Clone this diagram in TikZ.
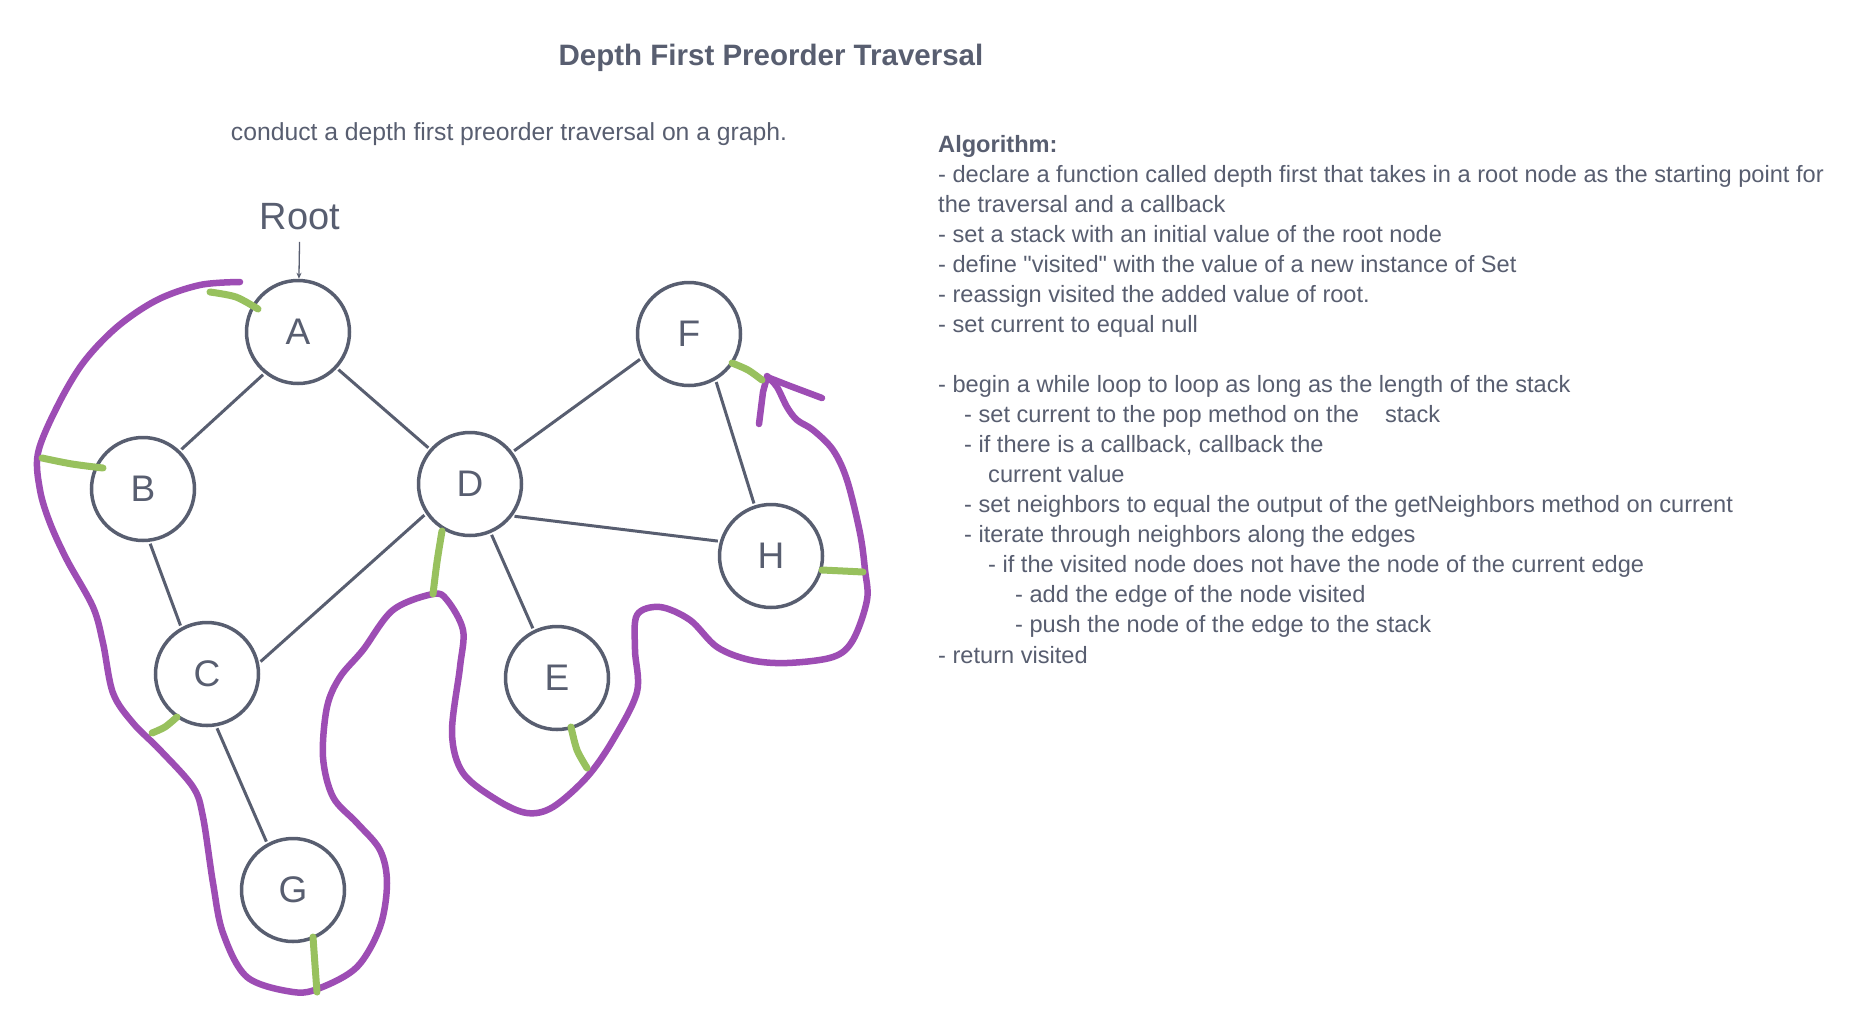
\documentclass[tikz,border=0pt]{standalone}
\usepackage{fontspec}
\setmainfont{Liberation Sans}[Ligatures=TeXOff]
\usetikzlibrary{arrows.meta}

\definecolor{inkgrey}{HTML}{585E70}
\definecolor{walkpurple}{HTML}{9D4DB4}
\definecolor{visitgreen}{HTML}{98C15E}

\tikzset{
  vertex/.style={circle, draw=inkgrey, line width=3.5pt, minimum size=103pt,
    inner sep=0pt, text=inkgrey, font=\fontsize{37}{37}\selectfont},
  edge/.style={draw=inkgrey, line width=3pt, shorten <=2pt, shorten >=2pt},
  walk/.style={draw=walkpurple, line width=6.5pt, line cap=round, line join=round},
  visit/.style={draw=visitgreen, line width=7pt, line cap=round},
  algtext/.style={anchor=base west, inner sep=0pt, text=inkgrey,
    font=\fontsize{23.6}{26}\selectfont},
}

\begin{document}
\begin{tikzpicture}[x=1pt, y=-1pt, >=Stealth]
  \fill[white] (0,0) rectangle (1852,1028);
  \useasboundingbox (0,0) rectangle (1852,1028);

  % titles
  \node[anchor=base, text=inkgrey, font=\fontsize{29.5}{30}\selectfont\bfseries] (title) at (771,65) {Depth First Preorder Traversal};
  \node[anchor=base, text=inkgrey, font=\fontsize{24.7}{26}\selectfont] (intro) at (509,140) {conduct a depth first preorder traversal on a graph.};

  % vertices
  \node[vertex] (A) at (298,332) {A};
  \node[vertex] (B) at (143,489) {B};
  \node[vertex] (C) at (207,674) {C};
  \node[vertex] (D) at (470,484) {D};
  \node[vertex] (E) at (557,678) {E};
  \node[vertex] (F) at (689,334) {F};
  \node[vertex] (G) at (293,890) {G};
  \node[vertex] (H) at (771,556) {H};

  % root label
  \node[anchor=base, text=inkgrey, font=\fontsize{38}{38}\selectfont] (root) at (300,229) {Root};
  \draw[-{Stealth[length=6pt, width=5pt]}, inkgrey, line width=1.3pt, shorten <=9pt] (root) -- (A);

  % edges
  \draw[edge] (A.231) -- (B.46);
  \draw[edge] (A.317) -- (D.139);
  \draw[edge] (B.277) -- (C.119);
  \draw[edge] (C.12) -- (D.214);
  \draw[edge] (C.280) -- (G.119);
  \draw[edge] (D.37) -- (F.207);
  \draw[edge] (D.323) -- (H.164);
  \draw[edge] (D.293) -- (E.116);
  \draw[edge] (F.300) -- (H.108);

  % traversal walk
  \draw[walk] plot[smooth, tension=0.55] coordinates {
    (240,282) (200,285) (157,300) (117,327) (83,363) (57,407) (38,453) (40,490)
    (50,523) (67,560) (93,607) (103,643) (113,693) (133,723) (160,750) (193,787)
    (203,817) (213,883) (223,933) (247,977) (293,992) (320,988) (357,967) (380,927)
    (387,883) (380,850) (357,823) (333,797) (323,757) (327,707) (340,677) (363,650)
    (393,610) (433,594) (447,600) (463,630) (460,667) (452,733) (463,773) (497,800)
    (527,813) (553,807) (587,777) (613,740) (637,692) (635,650) (637,615) (660,607)
    (690,620) (717,647) (750,660) (787,663) (833,657) (853,640) (867,600) (865,570)
    (860,533) (847,480) (833,450) (813,430) (797,420) (787,407) (777,387) (767,376)};
  \draw[walk] (759,424) -- (763,392) -- (767,377) -- (790,386) -- (822,398);

  % visit marks
  \draw[visit] plot[smooth] coordinates {(210,292) (236,297) (258,309)};
  \draw[visit] plot[smooth] coordinates {(42,458) (72,464) (103,468)};
  \draw[visit] plot[smooth] coordinates {(152,733) (165,727) (177,717)};
  \draw[visit] plot[smooth] coordinates {(442,531) (437,562) (433,594)};
  \draw[visit] plot[smooth] coordinates {(571,727) (577,750) (587,768)};
  \draw[visit] plot[smooth] coordinates {(732,363) (748,370) (762,380)};
  \draw[visit] plot[smooth] coordinates {(313,937) (315,965) (317,992)};
  \draw[visit] plot[smooth] coordinates {(822,570) (843,571) (863,572)};

  % algorithm
  \foreach \i/\x/\t in {
      0/0/{\textbf{Algorithm:}},
      1/0/{- declare a function called depth first that takes in a root node as the starting point for},
      2/0/{the traversal and a callback},
      3/0/{- set a stack with an initial value of the root node},
      4/0/{- define "visited" with the value of a new instance of Set},
      5/0/{- reassign visited the added value of root.},
      6/0/{- set current to equal null},
      8/0/{- begin a while loop to loop as long as the length of the stack},
      9/26/{- set current to the pop method on the\hspace{26pt}stack},
      10/26/{- if there is a callback, callback the},
      11/50/{current value},
      12/26/{- set neighbors to equal the output of the getNeighbors method on current},
      13/26/{- iterate through neighbors along the edges},
      14/50/{- if the visited node does not have the node of the current edge},
      15/77/{- add the edge of the node visited},
      16/77/{- push the node of the edge to the stack},
      17/0/{- return visited}}
    \node[algtext] (alg\i) at ({938+\x},{152+30.06*\i}) {\t};
\end{tikzpicture}
\end{document}
